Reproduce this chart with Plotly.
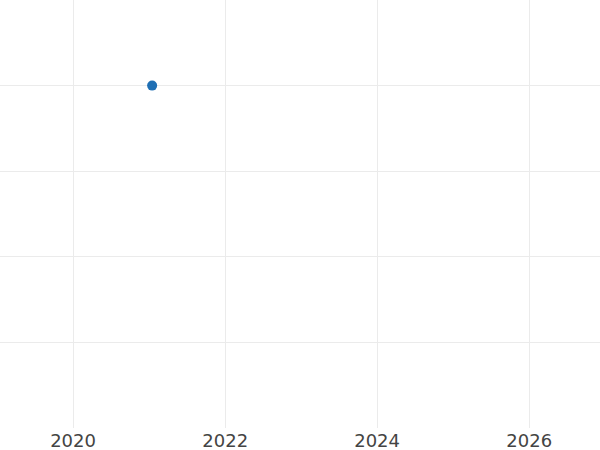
import plotly.graph_objects as go

# data
dates = ["2021-01-15"]
values = [4]

x_range = ["2019-01-15", "2026-12-07"]
y_range = [0, 5]

fig = go.Figure()

fig.add_trace(
    go.Scatter(
        x=dates,
        y=values,
        mode="markers",
        marker=dict(color="#1f6fb4", size=10),
        showlegend=False,
    )
)

fig.update_layout(
    width=600,
    height=450,
    template="plotly_white",
    font=dict(family="DejaVu Sans, sans-serif", size=18, color="#444"),
    margin=dict(l=0, r=0, t=0, b=22),
    plot_bgcolor="white",
    paper_bgcolor="white",
    xaxis=dict(
        type="date",
        range=x_range,
        dtick="M24",
        tick0="2020-01-01",
        tickformat="%Y",
        showgrid=True,
        gridcolor="#ebebeb",
        zeroline=False,
        showline=False,
    ),
    yaxis=dict(
        range=y_range,
        dtick=1,
        showgrid=True,
        gridcolor="#ebebeb",
        showticklabels=False,
        zeroline=False,
        showline=False,
    ),
)

# drop the page's default body margin so the figure sits at the window corner
fig.write_html(
    "out.html",
    config={"displayModeBar": False},
    post_script="document.body.style.margin='0';document.body.style.overflow='hidden';",
)
